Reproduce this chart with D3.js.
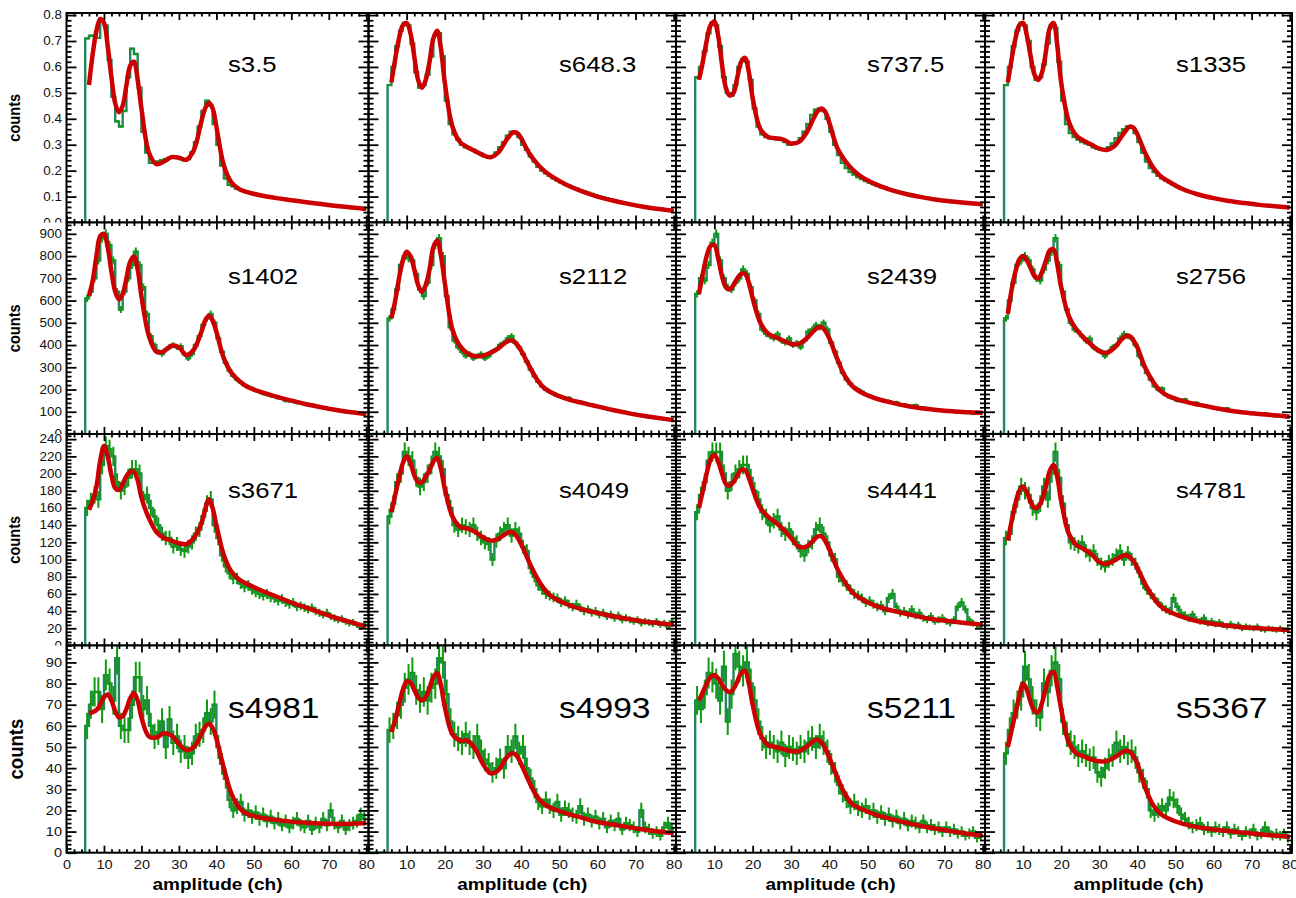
<!DOCTYPE html>
<html>
<head>
<meta charset="utf-8">
<script src="https://cdn.jsdelivr.net/npm/d3@7"></script>
<style>
  body { margin: 0; background: #fff; }
  svg { display: block; }
  text { font-family: "Liberation Sans", Arial, Helvetica, sans-serif; }
</style>
</head>
<body>
<svg id="canvas" width="1296" height="898"></svg>
<script>
// ---------------------------------------------------------------------------
// Amplitude spectra, one panel per sample, 4 x 4 grid.
// Histogram bins are 1 channel wide; the first filled bin starts at channel 5.
// ---------------------------------------------------------------------------
const firstFilledBin = 5;
const sampleLabels = [
  "s3.5", "s648.3", "s737.5", "s1335",
  "s1402", "s2112", "s2439", "s2756",
  "s3671", "s4049", "s4441", "s4781",
  "s4981", "s4993", "s5211", "s5367"
];

// channels at which the fitted curve is tabulated
const fitChannels = [6,7,8,9,10,11,12,13,14,15,16,17,18,19,20,
  22,24,26,28,30,32,34,36, 37,38,39,40, 42,44,46,48,
  52,56,60,64,68,72,76,80];

// axis settings per row
const rowYMax = [0.808, 951, 246, 98];
const rowMajorStep = [0.1, 100, 20, 10];
const rowErrScale = [0, 0.65, 0.75, 0.8];
const xMax = 80.6;
const xMajorStep = 10;

// ---- bin contents, channels 5..79 ----
const counts_s3_5 = [
  0.71,0.72,0.72,0.712,0.777,0.76,0.627,0.485,0.39,0.37,
  0.43,0.56,0.67,0.65,0.52,0.35,0.27,0.23,0.23,0.235,
  0.24,0.245,0.25,0.25,0.25,0.245,0.24,0.245,0.27,0.31,
  0.37,0.43,0.47,0.45,0.38,0.30,0.22,0.17,0.145,0.14,
  0.13,0.125,0.12,0.116,0.112,0.108,0.105,0.103,0.10,0.098,
  0.096,0.094,0.092,0.09,0.088,0.086,0.084,0.082,0.08,0.078,
  0.076,0.074,0.072,0.071,0.069,0.067,0.066,0.064,0.062,0.06,
  0.059,0.057,0.056,0.054,0.053];
const counts_s648_3 = [
  0.53,0.60,0.68,0.74,0.77,0.76,0.69,0.58,0.52,0.53,
  0.57,0.64,0.72,0.73,0.64,0.47,0.38,0.34,0.32,0.30,
  0.29,0.285,0.28,0.27,0.265,0.255,0.25,0.255,0.27,0.29,
  0.31,0.335,0.35,0.345,0.33,0.30,0.28,0.255,0.235,0.215,
  0.20,0.19,0.18,0.17,0.163,0.155,0.148,0.142,0.136,0.13,
  0.125,0.12,0.115,0.11,0.105,0.10,0.097,0.093,0.089,0.085,
  0.082,0.078,0.075,0.072,0.069,0.066,0.064,0.061,0.059,0.056,
  0.054,0.052,0.05,0.048,0.046];
const counts_s737_5 = [
  0.56,0.60,0.66,0.73,0.77,0.76,0.68,0.56,0.50,0.49,
  0.53,0.60,0.63,0.62,0.55,0.44,0.37,0.34,0.33,0.325,
  0.325,0.32,0.32,0.31,0.30,0.305,0.31,0.325,0.35,0.38,
  0.415,0.435,0.44,0.43,0.40,0.35,0.30,0.26,0.23,0.21,
  0.195,0.185,0.175,0.168,0.16,0.154,0.148,0.142,0.137,0.133,
  0.128,0.124,0.12,0.116,0.113,0.11,0.107,0.104,0.101,0.098,
  0.095,0.093,0.09,0.088,0.086,0.084,0.082,0.08,0.078,0.077,
  0.075,0.074,0.073,0.072,0.07];
const counts_s1335 = [
  0.53,0.60,0.68,0.74,0.77,0.76,0.70,0.60,0.55,0.56,
  0.61,0.69,0.76,0.75,0.62,0.47,0.38,0.345,0.33,0.32,
  0.31,0.305,0.30,0.29,0.285,0.28,0.28,0.29,0.305,0.325,
  0.345,0.36,0.37,0.365,0.345,0.31,0.27,0.235,0.21,0.195,
  0.18,0.17,0.162,0.155,0.146,0.138,0.132,0.126,0.12,0.115,
  0.11,0.106,0.102,0.099,0.096,0.093,0.09,0.087,0.085,0.082,
  0.08,0.078,0.076,0.074,0.072,0.07,0.068,0.067,0.065,0.064,
  0.062,0.061,0.06,0.059,0.058];

const counts_s1402 = [
  610,640,700,780,880,900,850,780,640,560,
  640,700,760,820,760,660,540,440,400,370,
  360,380,390,400,390,395,360,340,360,400,
  440,490,520,540,500,430,370,320,285,262,
  245,232,220,212,204,196,190,182,178,172,
  170,162,160,150,148,150,140,138,135,130,
  132,125,120,118,115,112,110,105,106,100,
  98,96,95,92,88];
const counts_s2112 = [
  520,560,650,760,800,790,780,720,650,620,
  680,760,850,880,800,620,480,420,390,370,
  350,360,340,350,360,340,350,370,380,400,
  410,430,440,410,390,360,325,290,260,235,
  215,200,190,182,172,168,160,162,150,146,
  145,140,134,132,126,122,120,114,112,106,
  102,100,98,94,92,88,85,82,80,76,
  74,70,68,65,62];
const counts_s2439 = [
  630,700,690,760,860,900,780,700,660,650,
  680,700,740,720,660,600,540,470,450,440,
  430,450,420,410,430,400,410,390,420,460,
  470,490,480,500,470,410,370,320,275,245,
  225,210,200,190,178,172,165,160,155,150,
  148,140,142,130,132,125,120,130,115,118,
  110,112,108,105,106,100,104,100,97,99,
  95,96,92,98,94];
const counts_s2756 = [
  520,600,680,760,780,800,780,740,700,690,
  740,780,820,880,760,640,560,500,470,460,
  440,420,430,390,380,370,350,370,390,400,
  430,450,440,430,400,350,310,275,245,215,
  200,205,175,165,160,150,148,155,140,138,
  140,130,128,125,120,118,112,110,115,105,
  102,100,98,96,95,92,90,88,92,85,
  84,80,82,78,75];

const counts_s3671 = [
  160,168,175,170,210,232,228,220,190,180,
  185,195,205,205,200,170,175,160,150,140,
  130,125,125,115,118,112,110,115,120,130,
  135,150,165,170,140,125,105,92,84,78,
  78,72,68,70,65,62,60,58,60,56,
  55,52,54,50,48,50,45,46,44,42,
  44,40,38,36,38,34,32,30,31,28,
  26,27,24,22,25];
const counts_s4049 = [
  150,165,190,200,225,220,215,195,185,190,
  200,210,225,220,205,175,160,140,135,140,
  138,135,140,130,125,120,118,100,122,130,
  135,140,128,135,130,115,110,90,80,70,
  65,60,58,56,55,50,52,48,45,48,
  44,40,42,38,40,36,38,34,36,32,
  35,30,32,30,28,30,26,28,27,25,
  28,24,26,22,28];
const counts_s4441 = [
  155,175,190,215,225,225,225,200,180,190,
  200,205,210,210,195,180,170,155,150,140,
  145,150,135,130,135,125,120,110,105,115,
  120,135,140,130,120,105,100,80,75,70,
  65,60,58,55,50,52,48,45,47,40,
  55,60,45,38,40,36,42,35,38,32,
  30,34,28,30,32,28,26,30,45,50,
  42,30,26,24,22];
const counts_s4781 = [
  125,130,155,170,185,180,175,160,155,165,
  185,170,200,225,195,165,140,120,118,115,
  120,110,105,110,100,95,92,98,100,105,
  110,100,108,100,95,85,72,65,60,55,
  50,45,42,40,55,45,38,35,32,36,
  30,28,32,26,28,25,27,24,22,25,
  22,24,20,22,21,20,22,19,18,20,
  19,18,20,17,19];

const counts_s4981 = [
  60,70,76,76,68,84,80,72,92,60,
  58,58,70,83,83,68,72,60,55,57,
  62,50,63,52,55,48,50,45,47,55,
  56,58,66,62,70,50,42,35,25,20,
  22,24,18,20,17,19,16,18,15,17,
  14,16,13,15,12,14,16,13,12,15,
  11,14,12,16,13,20,14,12,15,11,
  13,14,15,18,16];
const counts_s4993 = [
  58,60,65,70,78,82,85,77,73,76,
  72,78,80,92,90,75,62,56,54,52,
  56,52,50,55,48,44,42,38,40,44,
  40,50,48,55,47,50,40,35,30,24,
  22,25,22,20,24,18,21,20,18,17,
  22,16,18,15,17,14,16,12,15,13,
  16,11,14,13,12,10,20,12,11,9,
  10,8,12,14,11];
const counts_s5211 = [
  72,68,75,85,83,80,72,88,62,75,
  94,88,86,90,80,72,62,54,50,52,
  50,48,52,46,50,49,47,50,48,52,
  54,50,55,52,48,42,38,32,28,25,
  22,24,21,20,22,19,20,17,19,16,
  18,15,17,14,16,13,15,14,12,15,
  12,13,11,12,10,12,10,11,9,10,
  8,9,10,7,8];
const counts_s5367 = [
  47,58,66,70,74,88,82,72,66,64,
  80,76,86,90,82,62,56,52,50,46,
  48,46,44,45,38,36,40,44,46,52,
  48,50,47,48,45,38,35,30,20,18,
  20,22,20,26,25,22,18,16,14,12,
  13,14,11,12,10,12,11,10,12,9,
  11,10,8,10,9,11,8,9,12,10,
  8,9,8,9,7];

// ---- fitted curves, tabulated at fitChannels ----
const fit_s3_5 = [0.53,0.65,0.74,0.785,0.77,0.68,0.56,0.46,0.425,0.45,0.53,0.605,0.62,0.55,0.44,
  0.27,0.225,0.235,0.252,0.25,0.242,0.28,0.39, 0.44,0.462,0.44,0.37, 0.22,0.155,0.13,0.118,
  0.104,0.094,0.086,0.078,0.071,0.064,0.058,0.052];
const fit_s648_3 = [0.54,0.63,0.71,0.76,0.77,0.73,0.64,0.55,0.52,0.55,0.62,0.71,0.74,0.67,0.54,
  0.37,0.31,0.29,0.275,0.26,0.252,0.27,0.315, 0.335,0.348,0.345,0.325, 0.27,0.23,0.20,0.178,
  0.145,0.12,0.10,0.085,0.072,0.061,0.052,0.045];
const fit_s737_5 = [0.55,0.62,0.70,0.76,0.775,0.72,0.61,0.52,0.49,0.50,0.56,0.62,0.635,0.58,0.48,
  0.36,0.33,0.325,0.32,0.305,0.31,0.345,0.405, 0.43,0.44,0.425,0.385, 0.29,0.24,0.205,0.18,
  0.148,0.126,0.11,0.098,0.088,0.081,0.075,0.07];
const fit_s1335 = [0.54,0.63,0.71,0.76,0.77,0.72,0.64,0.57,0.55,0.58,0.66,0.75,0.77,0.68,0.54,
  0.39,0.335,0.315,0.30,0.285,0.28,0.295,0.335, 0.355,0.37,0.365,0.34, 0.27,0.215,0.18,0.16,
  0.128,0.108,0.094,0.083,0.075,0.068,0.063,0.058];

const fit_s1402 = [620,690,800,890,900,840,730,640,605,630,700,775,798,740,620,
  440,370,372,397,390,355,380,460, 510,532,510,460, 340,275,240,215,
  188,168,150,134,120,108,98,90];
const fit_s2112 = [520,600,700,780,820,800,740,670,640,670,740,840,870,800,680,
  470,395,362,350,352,365,385,412, 420,418,400,375, 310,250,208,186,
  158,140,124,108,94,82,72,62];
const fit_s2439 = [630,720,800,845,850,790,710,660,650,670,700,720,720,680,610,
  500,452,435,420,405,405,428,465, 478,480,462,430, 340,262,215,190,
  160,142,127,116,108,102,98,95];
const fit_s2756 = [540,650,730,785,800,780,745,710,700,730,780,825,830,760,660,
  530,470,432,400,372,365,388,428, 440,440,420,390, 300,238,195,172,
  148,132,118,106,97,90,84,78];

const fit_s3671 = [158,168,185,215,232,220,198,183,181,188,197,202,202,192,172,
  148,132,125,122,119,118,125,142, 158,170,160,140, 105,86,77,72,
  64,57,50,44,38,32,27,22];
const fit_s4049 = [155,175,195,212,220,212,198,190,190,196,204,214,218,205,182,
  150,138,136,132,126,122,124,130, 132,131,126,118, 98,80,66,57,
  48,42,38,34,31,28,26,24];
const fit_s4441 = [160,180,200,216,222,214,200,188,186,190,198,204,204,195,182,
  160,150,143,135,125,115,115,123, 127,127,121,112, 90,74,62,55,
  46,41,37,33,30,28,26,24];
const fit_s4781 = [122,145,165,180,185,178,167,160,161,170,185,203,210,195,168,
  130,117,112,106,97,95,99,104, 105,103,98,90, 72,57,46,40,
  33,28,25,23,21,20,19,18];

const fit_s4981 = [66,66.5,67.5,70,73.5,74.8,72,67,64,64.5,68,73,75.5,72,64,
  55,54.5,56.5,55.5,51.5,48.5,50,56, 59.5,61,59,54, 40,28,21.5,18.5,
  16.5,15.5,14.7,14.2,13.8,13.6,13.7,14];
const fit_s4993 = [57,63,70,77,81,80.5,77,73.5,72,73.5,78,83,85,79,69,
  56,53,53,49,42,37.5,39,44.5, 46.5,47,45.5,42, 34,27,23,21,
  18.5,16.5,14.5,13.3,12.1,11,10,9.2];
const fit_s5211 = [72,76,80,83,84,82.5,79.5,77,76,77.5,81,85,86,80,70,
  56,51,50,49,48,48,50,53, 53.5,52,49,45, 36,28,23,21,
  18,16,14.2,12.6,11.3,10.1,9,8];
const fit_s5367 = [50,58,66,74,80,77,71,67,66.5,71,78,84,85.5,78,68,
  52,47,45.5,44,43.2,43.3,45,47.5, 48.2,47.8,45.5,42, 31,23,18.5,16.3,
  13.6,12,11,10.2,9.4,8.7,8.1,7.6];

const panelCounts = [
  counts_s3_5, counts_s648_3, counts_s737_5, counts_s1335,
  counts_s1402, counts_s2112, counts_s2439, counts_s2756,
  counts_s3671, counts_s4049, counts_s4441, counts_s4781,
  counts_s4981, counts_s4993, counts_s5211, counts_s5367];
const panelFits = [
  fit_s3_5, fit_s648_3, fit_s737_5, fit_s1335,
  fit_s1402, fit_s2112, fit_s2439, fit_s2756,
  fit_s3671, fit_s4049, fit_s4441, fit_s4781,
  fit_s4981, fit_s4993, fit_s5211, fit_s5367];

// ---------------------------------------------------------------------------
// layout
// ---------------------------------------------------------------------------
const W = 1296, H = 898;
const colEdges = [66.5, 368.5, 676, 985, 1292];
const rowEdges = [13, 222.5, 434, 645.5, 852.7];
const labelX = [228, 559, 867, 1176];
const labelBaseline = [72, 284, 498, 718];
const labelSize = [23, 23, 23, 30];
const tickFont = [12, 12, 12, 13];
const countsFont = [14.6, 14.6, 14.6, 18.6];
const stretch = "scale(1.12,1)";

const histColor = "#23875a";
const errColor = "#0e9c0e";
const fitColor = "#cc0000";

const svg = d3.select("#canvas");
svg.append("rect").attr("width", W).attr("height", H).attr("fill", "#fff");

function styleAxis(g, fontSize) {
  g.attr("font-family", '"Liberation Sans", Arial, sans-serif')
   .attr("font-size", fontSize)
   .attr("color", "#000");
  g.select(".domain").remove();
  g.selectAll(".tick line").attr("stroke-width", 1.8);
  g.selectAll(".tick text").attr("fill", "#111").attr("transform", stretch);
}

for (let r = 0; r < 4; r++) {
  const rowTop = r === 0 ? 0 : rowEdges[r];
  const rowBottom = r === 3 ? H : rowEdges[r + 1];
  const rowG = svg.append("g").attr("class", "row");
  // each row sits on its own white pad, hiding overflow from the row above
  rowG.append("rect").attr("x", 0).attr("y", rowTop)
    .attr("width", W).attr("height", rowBottom - rowTop).attr("fill", "#fff");

  const y0 = rowEdges[r + 1], y1 = rowEdges[r];
  const y = d3.scaleLinear().domain([0, rowYMax[r]]).range([y0, y1]);
  const step = rowMajorStep[r];
  const nMajor = Math.floor(rowYMax[r] / step + 1e-9);
  const yMajor = d3.range(0, nMajor + 1).map(k => +(k * step).toFixed(6));
  const nMinor = Math.floor(rowYMax[r] / (step / 5) + 1e-9);
  const yMinor = d3.range(0, nMinor + 1).filter(k => k % 5 !== 0).map(k => +(k * step / 5).toFixed(6));
  const yFmt = r === 0 ? d3.format(".1f") : d3.format("d");

  for (let c = 0; c < 4; c++) {
    const idx = r * 4 + c;
    const xa = colEdges[c], xb = colEdges[c + 1];
    const x = d3.scaleLinear().domain([0, xMax]).range([xa, xb]);
    const g = rowG.append("g").attr("class", "panel");

    const clipId = "clip" + idx;
    g.append("clipPath").attr("id", clipId)
      .append("rect").attr("x", xa).attr("y", y1).attr("width", xb - xa).attr("height", y0 - y1);
    const plot = g.append("g").attr("clip-path", `url(#${clipId})`);

    const counts = panelCounts[idx];
    const bins = counts.map((v, i) => ({ lo: firstFilledBin + i, v }));

    // histogram outline
    const stepPts = [[0, 0]].concat(bins.map(b => [b.lo, b.v]));
    stepPts.push([bins[bins.length - 1].lo + 1, bins[bins.length - 1].v]);
    const stepLine = d3.line().x(d => x(d[0])).y(d => y(d[1])).curve(d3.curveStepAfter);
    plot.append("path").attr("d", stepLine(stepPts))
      .attr("fill", "none").attr("stroke", histColor).attr("stroke-width", 2.4);

    // bin contents with error bars
    const k = rowErrScale[r];
    if (k > 0) {
      plot.append("g").selectAll("line.err").data(bins).join("line")
        .attr("x1", b => x(b.lo + 0.5)).attr("x2", b => x(b.lo + 0.5))
        .attr("y1", b => y(b.v - k * Math.sqrt(b.v)))
        .attr("y2", b => y(b.v + k * Math.sqrt(b.v)))
        .attr("stroke", errColor).attr("stroke-width", 2);
    }
    plot.append("g").selectAll("line.bar").data(bins).join("line")
      .attr("x1", b => x(b.lo)).attr("x2", b => x(b.lo + 1))
      .attr("y1", b => y(b.v)).attr("y2", b => y(b.v))
      .attr("stroke", errColor).attr("stroke-width", 2);

    // fitted curve
    const fitPts = fitChannels.map((ch, i) => [ch, panelFits[idx][i]]);
    const fitLine = d3.line().x(d => x(d[0])).y(d => y(d[1])).curve(d3.curveCatmullRom.alpha(0.5));
    plot.append("path").attr("d", fitLine(fitPts))
      .attr("fill", "none").attr("stroke", fitColor).attr("stroke-width", 4.5)
      .attr("stroke-linejoin", "round");

    // axes: ticks on all four sides, pointing inward
    const xMajor = d3.range(0, 81, xMajorStep);
    const xMinor = d3.range(0, 81, 2).filter(v => v % xMajorStep !== 0);
    const xFmt = d => (r === 3 && (c === 0 || d > 0)) ? d : "";

    g.append("g").attr("transform", `translate(${xa},0)`)
      .call(d3.axisLeft(y).tickValues(yMajor).tickSizeInner(-10).tickSizeOuter(0).tickPadding(4)
        .tickFormat(c === 0 ? yFmt : ""))
      .call(s => styleAxis(s, tickFont[r]));
    g.append("g").attr("transform", `translate(${xa},0)`)
      .call(d3.axisLeft(y).tickValues(yMinor).tickSizeInner(-5).tickSizeOuter(0).tickFormat(""))
      .call(s => styleAxis(s, tickFont[r]));
    g.append("g").attr("transform", `translate(${xb},0)`)
      .call(d3.axisRight(y).tickValues(yMajor).tickSizeInner(-10).tickSizeOuter(0).tickFormat(""))
      .call(s => styleAxis(s, tickFont[r]));
    g.append("g").attr("transform", `translate(${xb},0)`)
      .call(d3.axisRight(y).tickValues(yMinor).tickSizeInner(-5).tickSizeOuter(0).tickFormat(""))
      .call(s => styleAxis(s, tickFont[r]));

    g.append("g").attr("transform", `translate(0,${y0})`)
      .call(d3.axisBottom(x).tickValues(xMajor).tickSizeInner(-7).tickSizeOuter(0).tickPadding(7).tickFormat(xFmt))
      .call(s => styleAxis(s, tickFont[3]));
    g.append("g").attr("transform", `translate(0,${y0})`)
      .call(d3.axisBottom(x).tickValues(xMinor).tickSizeInner(-3.5).tickSizeOuter(0).tickFormat(""))
      .call(s => styleAxis(s, tickFont[3]));
    g.append("g").attr("transform", `translate(0,${y1})`)
      .call(d3.axisTop(x).tickValues(xMajor).tickSizeInner(-7).tickSizeOuter(0).tickFormat(""))
      .call(s => styleAxis(s, tickFont[3]));
    g.append("g").attr("transform", `translate(0,${y1})`)
      .call(d3.axisTop(x).tickValues(xMinor).tickSizeInner(-3.5).tickSizeOuter(0).tickFormat(""))
      .call(s => styleAxis(s, tickFont[3]));

    // frame
    g.append("rect").attr("x", xa).attr("y", y1).attr("width", xb - xa).attr("height", y0 - y1)
      .attr("fill", "none").attr("stroke", "#000").attr("stroke-width", 2);

    // sample name
    g.append("text")
      .attr("transform", `translate(${labelX[c]},${labelBaseline[r]}) ${stretch}`)
      .attr("font-size", labelSize[r]).attr("fill", "#000")
      .text(sampleLabels[idx]);

    // x-axis title under the bottom row
    if (r === 3) {
      g.append("text")
        .attr("transform", `translate(${(xa + xb) / 2},890) ${stretch}`)
        .attr("text-anchor", "middle").attr("font-size", 17).attr("font-weight", "bold")
        .attr("fill", "#000").text("amplitude (ch)");
    }
  }

  // y-axis title
  const titleX = r === 3 ? 22.7 : 20;
  rowG.append("text")
    .attr("transform", `translate(${titleX},${(y0 + y1) / 2}) ${stretch} rotate(-90)`)
    .attr("text-anchor", "middle").attr("font-size", countsFont[r]).attr("font-weight", "bold")
    .attr("fill", "#000").text("counts");
}
</script>
</body>
</html>
